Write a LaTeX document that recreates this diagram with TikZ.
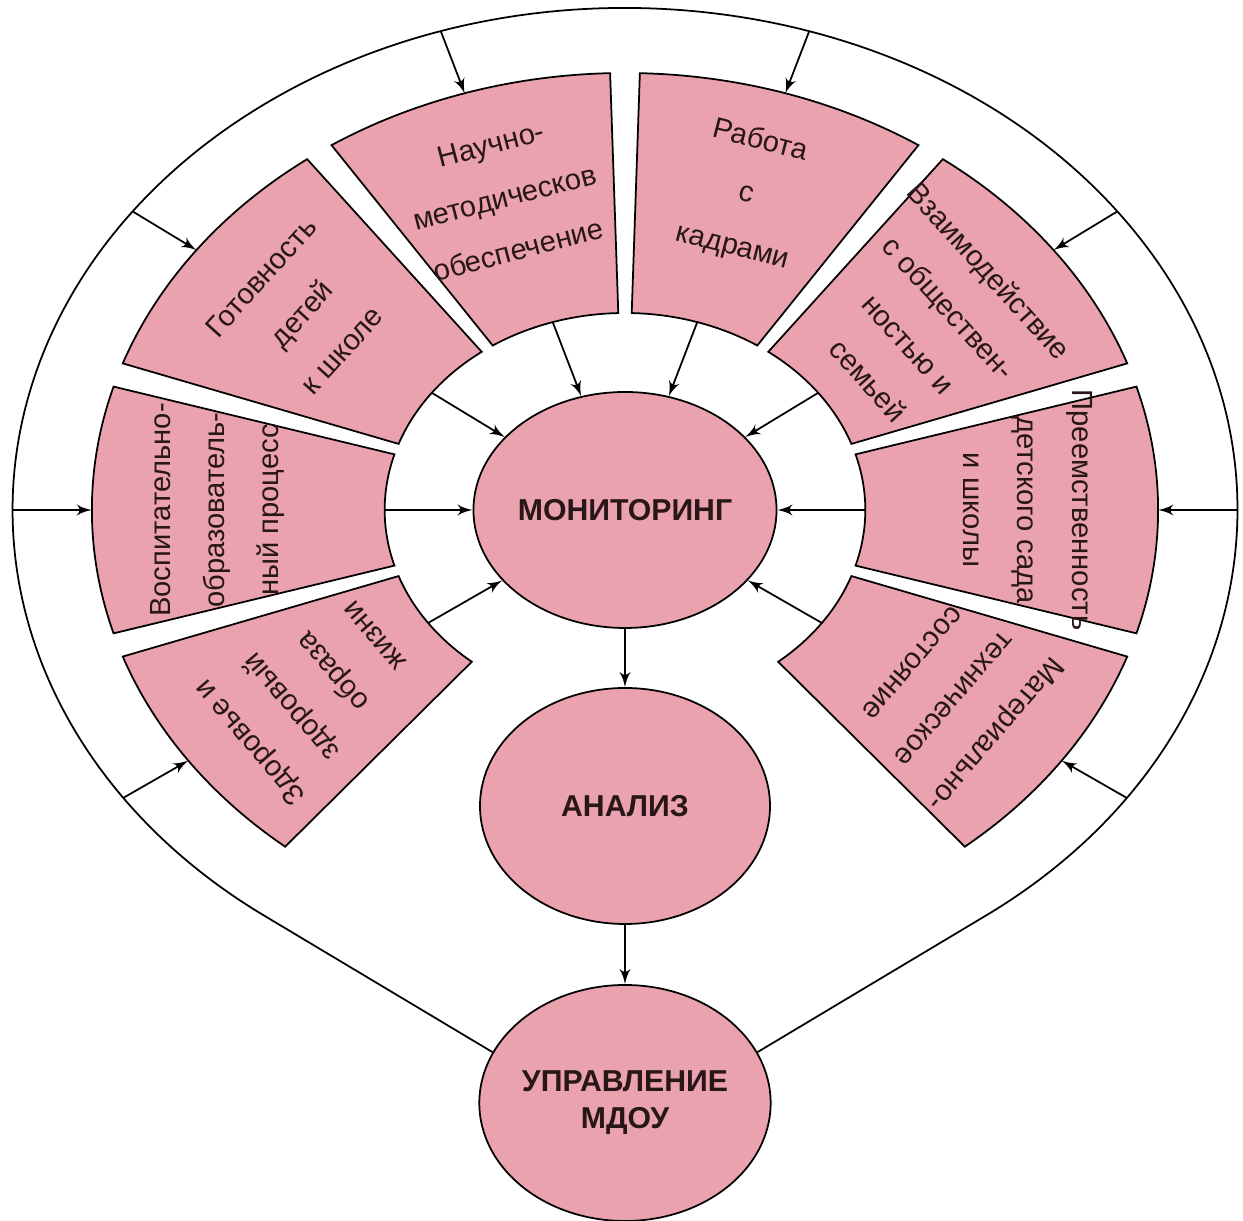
\documentclass[tikz,border=0pt]{standalone}
\usepackage{fontspec}
\setmainfont{Liberation Sans}
\usetikzlibrary{arrows,shapes.geometric}
\definecolor{petal}{RGB}{234,163,174}
\definecolor{ink}{RGB}{40,22,24}

\begin{document}
\begin{tikzpicture}[x=0.1mm, y=0.1mm,
            outline/.style={draw, line width=0.5pt},
            arr/.style={outline, -latex'},
            petalbox/.style={outline, fill=petal},
            hub/.style={draw, line width=0.5pt, fill=petal, ellipse, inner sep=0pt,
                        minimum width=29mm, minimum height=23.6mm, text=ink, align=center,
                        font=\bfseries\fontsize{8.6}{10.5}\selectfont},
            petaltext/.style={text=ink, align=center, inner sep=0pt,
                        font=\fontsize{8.3}{15.5}\selectfont}]
    \useasboundingbox (-625,-711) rectangle (618,510);
    \node[hub] (monitoring) at (0,0) {МОНИТОРИНГ};
    \node[hub] (analysis) at (0,-296) {АНАЛИЗ};
    \node[hub] (management) at (0,-593) {УПРАВЛЕНИЕ\\МДОУ};
    \draw[arr] (monitoring) -- (analysis);
    \draw[arr] (analysis) -- (management);
    \begin{scope}[xscale=1.22]
        \draw[outline] (management.21) -- (-54:502)
            arc[start angle=-54, end angle=234, radius=502] -- (management.159);
        \foreach \name/\from/\to/\mid/\rot/\rad/\txt in {
                nauch/90/125/107.5/14.5/328/{Научно-\\методическов\\обеспечение},
                gotov/125/162/143.5/47.9/330/{Готовность\\детей\\к школе},
                vosp/162/198/180/90/334/{Воспитательно-\\образователь-\\ный процесс},
                zdor/198/232/215/130.5/314/{Здоровье и\\здоровый\\образа\\жизни},
                rabota/55/90/72.5/-14.5/331/{Работа\\с\\кадрами},
                vzaim/18/55/36.5/-47.9/310/{Взаимодействие\\с обществен-\\ностью и\\семьей},
                preem/-18/18/0/-90/330/{Преемственность\\детского сада\\и школы},
                mater/-52/-18/-35/-130.5/330/{Материально-\\техническое\\состояние}}{
            \draw[petalbox] (\from+1.6:437) arc[start angle=\from+1.6, end angle=\to-1.6, radius=437]
                -- (\to-1.6:197) arc[start angle=\to-1.6, end angle=\from+1.6, radius=197] -- cycle;
            \node[petaltext, rotate=\rot] (\name) at (\mid:\rad) {\txt};
            \coordinate (\name-rim) at (\mid:502);
            \coordinate (\name-out) at (\mid:437);
            \coordinate (\name-in) at (\mid:197);
            \draw[arr] (\name-rim) -- (\name-out);
            \draw[arr] (\name-in) -- (monitoring);
        }
    \end{scope}
\end{tikzpicture}
\end{document}
